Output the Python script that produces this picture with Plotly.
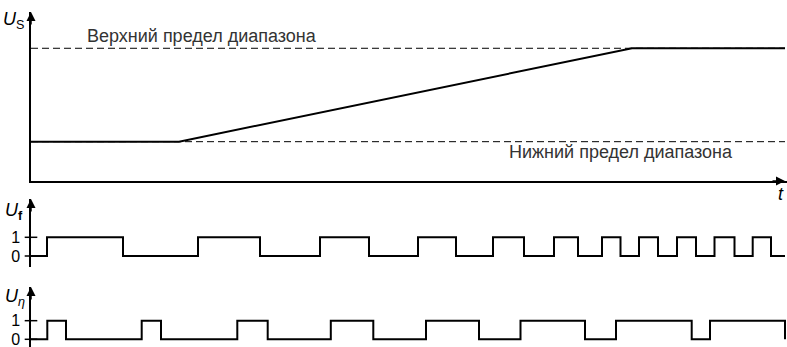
import plotly.graph_objects as go

# time axis in arbitrary units (0 = origin of the axes)
t_end = 754

# U_S: sweep voltage, lower limit -> ramp -> upper limit
us_t = [0, 148, 601, 754]
us_level = [1, 1, 3, 3]
lower_limit = 1
upper_limit = 3

# U_f: rising / falling edge times
uf_rise = [16, 167, 289, 387, 462, 523, 571, 608, 646, 683.5, 721.7]
uf_fall = [92, 229, 338, 425, 493, 547, 589.5, 627, 665, 703.5, 740]

# U_eta: rising / falling edge times
ueta_rise = [16.3, 110.7, 206.3, 299.8, 395, 489.5, 585, 679]
ueta_fall = [35, 130, 236.7, 342.3, 448, 554, 660.7, 754]

label_upper = "Верхний предел диапазона"
label_lower = "Нижний предел диапазона"


def pulse_xy(rise, fall, end):
    xs, ys = [0], [0]
    for r, f in zip(rise, fall):
        xs += [r, f]
        ys += [1, 0]
    if xs[-1] < end:
        xs.append(end)
        ys.append(0)
    return xs, ys


FONT = "Liberation Sans"
INK = "black"

fig = go.Figure()

# dashed limits
fig.add_trace(go.Scatter(x=[0, t_end], y=[upper_limit] * 2, mode="lines",
                         line=dict(color=INK, width=1, dash="7px,4px"), yaxis="y"))
fig.add_trace(go.Scatter(x=[0, t_end], y=[lower_limit] * 2, mode="lines",
                         line=dict(color=INK, width=1, dash="7px,4px"), yaxis="y"))
# U_S
fig.add_trace(go.Scatter(x=us_t, y=us_level, mode="lines",
                         line=dict(color=INK, width=2), yaxis="y"))

fx, fy = pulse_xy(uf_rise, uf_fall, t_end)
fig.add_trace(go.Scatter(x=fx, y=fy, mode="lines", line_shape="hv",
                         line=dict(color=INK, width=2), yaxis="y2"))
ex, ey = pulse_xy(ueta_rise, ueta_fall, t_end)
fig.add_trace(go.Scatter(x=ex, y=ey, mode="lines", line_shape="hv",
                         line=dict(color=INK, width=2), yaxis="y3"))

# cross ticks at 0 and 1
for ya in ["y2", "y3"]:
    fig.add_trace(go.Scatter(x=[0, 0], y=[0, 1], mode="markers", cliponaxis=False,
                             marker=dict(symbol="line-ew", size=9,
                                         line=dict(color=INK, width=1.5)),
                             yaxis=ya))

H = 347.0
W_PLOT = 756.0
dom1 = [1 - 181 / H, 1 - 12 / H]
dom2 = [1 - 267 / H, 1 - 199 / H]
dom3 = [0, 1 - 287 / H]

axis_common = dict(showline=True, linecolor=INK, linewidth=1.5, showgrid=False,
                   zeroline=False, anchor="x", fixedrange=True, automargin=False)
pulse_ticks = dict(tickvals=[0, 1], ticktext=["0", "1"], ticks="",
                   tickfont=dict(family=FONT, size=16, color=INK), ticklabelstandoff=6,
                   ticklabeloverflow="allow")

fig.update_layout(
    width=787, height=347,
    margin=dict(l=31, r=0, t=0, b=0, autoexpand=False),
    paper_bgcolor="white", plot_bgcolor="white",
    showlegend=False,
    xaxis=dict(range=[0, W_PLOT], domain=[0, 1], showline=True, linecolor=INK,
               linewidth=1.5, showgrid=False, zeroline=False, showticklabels=False,
               ticks="", anchor="y", automargin=False),
    yaxis=dict(domain=dom1, range=[0.158, 3.777], showticklabels=False, ticks="",
               **axis_common),
    yaxis2=dict(domain=dom2, range=[-0.588, 3.048], **pulse_ticks, **axis_common),
    yaxis3=dict(domain=dom3, range=[-0.414, 2.81], **pulse_ticks, **axis_common),
)

arrow = dict(text="", showarrow=True, arrowhead=2, arrowsize=1.2, arrowwidth=1.5,
             arrowcolor=INK, xref="x", yref="paper")
fig.add_annotation(x=0, y=dom1[1], ax=0, ay=14, **arrow)
fig.add_annotation(x=0, y=dom2[1], ax=0, ay=14, **arrow)
fig.add_annotation(x=0, y=dom3[1], ax=0, ay=14, **arrow)
fig.add_annotation(x=t_end, y=dom1[0], ax=-14, ay=0, **arrow)

txt = dict(showarrow=False, xref="x", yref="paper", yanchor="middle",
           font=dict(family=FONT, size=18, color="#333"))
fig.add_annotation(x=54, y=1 - 36 / H, text=label_upper, xanchor="left", **txt)
fig.add_annotation(x=476, y=1 - 152 / H, text=label_lower, xanchor="left", **txt)

# axis symbols sit left of the plot area -> paper coords (negative x)
sym = dict(showarrow=False, xref="paper", yref="paper", xanchor="left", yanchor="middle",
           font=dict(family=FONT, size=18, color=INK))
fig.add_annotation(x=-30 / W_PLOT, y=1 - 21 / H, text="<i>U</i><sub>S</sub>", **sym)
fig.add_annotation(x=-28 / W_PLOT, y=1 - 212 / H, text="<i>U</i><sub><b>f</b></sub>", **sym)
fig.add_annotation(x=-28 / W_PLOT, y=1 - 297 / H, text="<i>U</i><sub><i>η</i></sub>", **sym)
fig.add_annotation(x=t_end - 4, y=1 - 194 / H, text="<i>t</i>",
                   **dict(sym, xref="x", xanchor="center"))

# the page body has a default 8px margin; remove it so the figure fills the window
fig.write_html("out.html", config={"displayModeBar": False},
               post_script="document.body.style.margin='0';")
